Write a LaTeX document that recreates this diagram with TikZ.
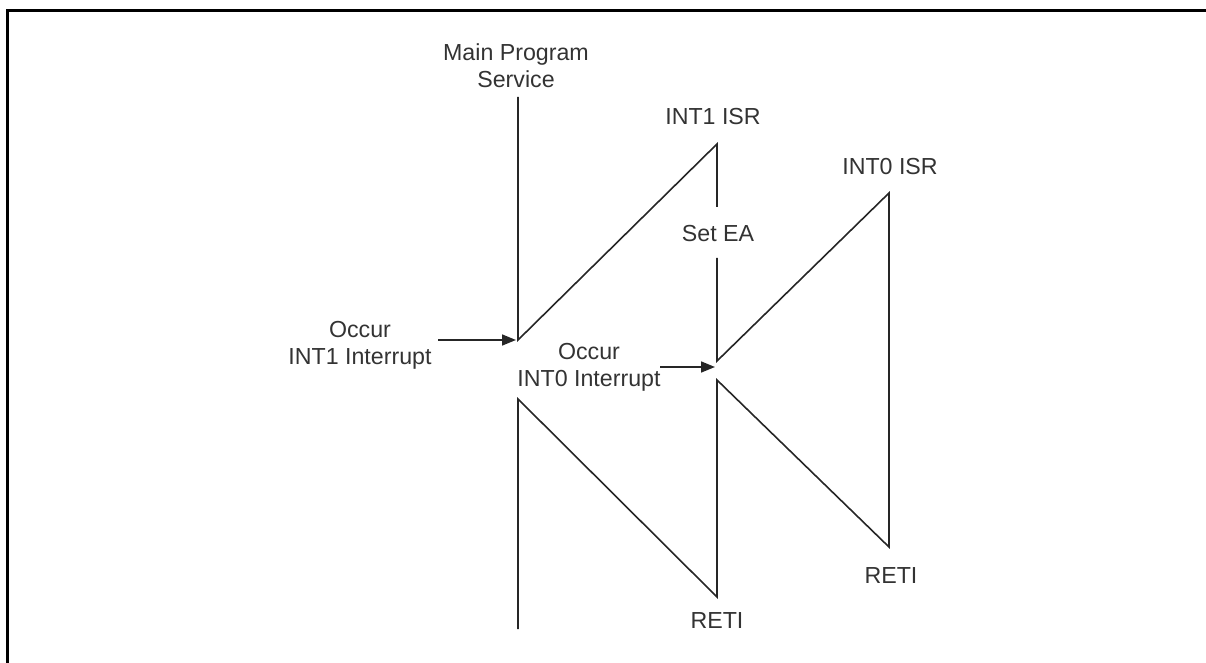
\documentclass[tikz,border=0pt]{standalone}
\usepackage{fontspec}
\setmainfont{Liberation Sans}
\usetikzlibrary{arrows.meta}
\begin{document}
\begin{tikzpicture}[x=0.5pt,y=-0.5pt,
  wire/.style={line width=0.8pt,draw=black!85},
  frameline/.style={line width=1.5pt,black},
  arr/.style={wire,-{Triangle[length=7pt,width=5.5pt]}},
  lbl/.style={font=\fontsize{11.6pt}{13.6pt}\selectfont,text=black!80,align=center,inner sep=0pt}]
\useasboundingbox (0,0) rectangle (1206,663);
\coordinate (fr0) at (7,663);
\coordinate (fr1) at (7,11);
\coordinate (fr2) at (1206,11);
\draw[frameline] (fr0) -- (fr1) -- (fr2);
% vertices
\coordinate (mtop) at (518,97);
\coordinate (m1) at (518,340);
\coordinate (i1top) at (717,144);
\coordinate (i1a) at (717,207);
\coordinate (i1b) at (717,258);
\coordinate (v2) at (717,361);
\coordinate (i0top) at (889,193);
\coordinate (i0bot) at (889,547);
\coordinate (v3) at (717,380);
\coordinate (r1) at (717,597);
\coordinate (m2) at (518,399);
\coordinate (mbot) at (518,629);
\coordinate (a1s) at (438,340);
\coordinate (a1e) at (516,340);
\coordinate (a2s) at (660,367);
\coordinate (a2e) at (715,367);
% lines
\draw[wire] (mtop) -- (m1) -- (i1top) -- (i1a);
\draw[wire] (i1b) -- (v2) -- (i0top) -- (i0bot) -- (v3) -- (r1) -- (m2) -- (mbot);
\draw[arr] (a1s) -- (a1e);
\draw[arr] (a2s) -- (a2e);
% labels
\node[lbl] (tmain) at (516,66) {Main Program\\Service};
\node[lbl] (tint1) at (713,117) {INT1 ISR};
\node[lbl] (tint0) at (890,167) {INT0 ISR};
\node[lbl] (tsetea) at (718,234) {Set EA};
\node[lbl] (tocc1) at (360,345) {Occur\\INT1 Interrupt};
\node[lbl] (tocc0) at (589,367) {Occur\\INT0 Interrupt};
\node[lbl] (treti1) at (717,621) {RETI};
\node[lbl] (treti2) at (891,576) {RETI};
\end{tikzpicture}
\end{document}
